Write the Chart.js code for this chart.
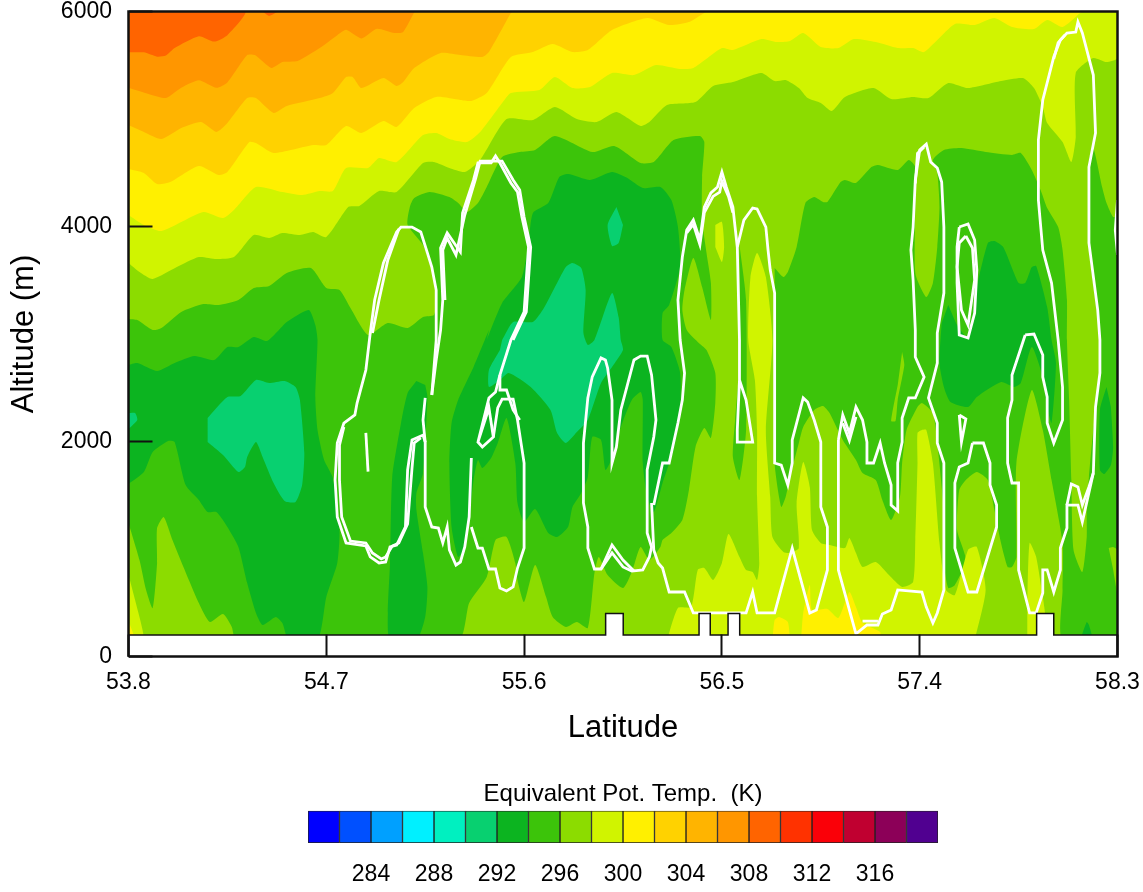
<!DOCTYPE html>
<html>
<head>
<meta charset="utf-8">
<title>Equivalent potential temperature cross section</title>
<script src="https://cdn.jsdelivr.net/npm/chart.js@4"></script>
<style>
  html, body { margin: 0; padding: 0; background: #fff; }
  #page { position: relative; width: 1143px; height: 892px; overflow: hidden; }
  #main { position: absolute; left: 0; top: 0; }
  #bar { position: absolute; left: 0; top: 770px; }
</style>
</head>
<body>
<div id="page">
  <canvas id="main" width="1143" height="770"></canvas>
  <canvas id="bar" width="1143" height="122"></canvas>
</div>
<script>
// Axis ticks
const latTicks = [53.8, 54.7, 55.6, 56.5, 57.4, 58.3];
const altTicks = [0, 2000, 4000, 6000];

// Colorbar
const barLevels = [280, 282, 284, 286, 288, 290, 292, 294, 296, 298, 300, 302, 304, 306, 308, 310, 312, 314, 316, 318];
const barTicks = [284, 288, 292, 296, 300, 304, 308, 312, 316];
const barColors = ["#0000ff", "#0050ff", "#00a0ff", "#00f0ff", "#00f0c0", "#08d070", "#0cb420", "#3cc40a", "#8cdc00", "#d0f400",
  "#fff000", "#ffd200", "#ffb400", "#ff9600", "#ff6400", "#ff3200", "#fa0008", "#c00030", "#8c0058", "#500090"];

// Filled contour regions, [latitude, altitude]
const ground296 = [[53.8,0],[58.3,0],[58.3,6000],[53.8,6000]];

const green294West = [[53.80,3140],[53.84,3130],[53.91,3037],[53.95,3056],[54.04,3205],[54.14,3279],[54.21,3270],[54.30,3316],[54.37,3428],[54.44,3447],[54.52,3568],[54.63,3614],[54.70,3428],[54.76,3409],[54.81,3242],[54.89,2991],[54.98,3102],[55.07,3056],[55.14,3158],[55.19,3177],[55.20,3316],[55.18,3595],[55.14,3828],[55.07,4014],[55.08,4181],[55.10,4265],[55.17,4321],[55.26,4274],[55.30,4219],[55.34,4135],[55.39,4219],[55.43,4368],[55.50,4647],[55.58,4693],[55.65,4712],[55.74,4842],[55.91,4693],[56.01,4749],[56.13,4591],[56.19,4600],[56.28,4805],[56.40,4842],[56.42,4786],[56.41,4460],[56.41,4060],[56.43,3754],[56.45,3474],[56.45,3130],[56.41,3437],[56.37,3707],[56.33,3409],[56.32,3223],[56.34,3037],[56.39,2926],[56.43,2851],[56.47,2637],[56.47,2358],[56.45,2033],[56.42,2126],[56.38,1949],[56.35,1549],[56.32,1270],[56.27,1149],[56.23,1084],[56.22,1019],[56.17,898],[56.13,1019],[56.09,786],[56.05,637],[55.98,758],[55.94,926],[55.92,777],[55.89,265],[55.84,321],[55.79,275],[55.73,368],[55.70,554],[55.65,851],[55.60,507],[55.57,712],[55.56,870],[55.52,1112],[55.47,1084],[55.43,740],[55.35,498],[55.30,150],[54.29,150],[54.27,275],[54.23,395],[54.17,321],[54.12,498],[54.05,833],[54.00,1084],[53.96,1298],[53.93,1195],[53.93,870],[53.91,451],[53.88,619],[53.85,898],[53.80,1242]];

const green294East = [[56.74,3614],[56.78,3530],[56.80,3577],[56.84,3809],[56.88,4219],[56.92,4274],[56.96,4228],[56.98,4228],[57.04,4414],[57.06,4433],[57.11,4405],[57.18,4553],[57.21,4572],[57.30,4526],[57.35,4619],[57.38,4553],[57.38,3568],[57.43,3344],[57.46,3474],[57.48,3809],[57.49,4181],[57.48,4498],[57.46,4619],[57.51,4712],[57.59,4730],[57.70,4693],[57.82,4665],[57.86,4684],[57.91,4526],[57.95,4340],[57.98,4172],[58.03,3995],[58.05,3781],[58.07,3316],[58.07,2944],[58.08,2386],[58.09,1642],[58.10,991],[58.14,786],[58.16,1112],[58.16,1363],[58.17,1670],[58.19,2107],[58.21,2414],[58.22,2730],[58.22,2972],[58.20,3316],[58.17,3781],[58.17,4246],[58.17,4619],[58.19,4730],[58.23,4368],[58.25,4219],[58.28,4088],[58.30,4088],[58.30,150],[58.05,150],[58.05,619],[58.05,1056],[58.00,1642],[57.96,2107],[57.91,2479],[57.84,1800],[57.84,926],[57.82,833],[57.80,833],[57.77,1056],[57.74,1363],[57.71,1642],[57.66,1716],[57.61,1642],[57.58,1549],[57.57,1177],[57.61,898],[57.56,665],[57.53,637],[57.51,870],[57.51,1335],[57.48,1986],[57.46,2265],[57.41,2358],[57.39,2321],[57.34,2107],[57.32,1800],[57.31,1484],[57.27,1270],[57.23,1456],[57.20,1642],[57.14,1707],[57.11,1828],[57.05,2014],[56.99,2265],[56.96,2330],[56.92,2293],[56.87,2135],[56.85,1986],[56.81,1670],[56.79,1484],[56.77,1391],[56.74,1800],[56.74,3037]];

const green294Sliver = [[56.58,3828],[56.61,3316],[56.61,2107],[56.58,1642],[56.55,1856],[56.56,2200],[56.58,2665]];

const lime296Sliver = [[57.32,2833],[57.33,2712],[57.30,2386],[57.29,2191],[57.27,2191],[57.30,2526]];
const lime296Edge = [[58.26,1009],[58.28,1019],[58.30,990],[58.30,590],[58.28,810]];

const dark292Left = [[53.80,2712],[53.84,2730],[53.93,2656],[54.01,2730],[54.10,2795],[54.19,2758],[54.25,2879],[54.30,2879],[54.37,2972],[54.43,2935],[54.48,3028],[54.52,3112],[54.62,3223],[54.65,3084],[54.66,2944],[54.65,2414],[54.66,2107],[54.69,1828],[54.73,1660],[54.76,1177],[54.75,870],[54.70,553],[54.66,150],[54.53,150],[54.50,312],[54.47,368],[54.41,293],[54.38,405],[54.34,684],[54.30,1019],[54.25,1205],[54.20,1344],[54.16,1344],[54.12,1456],[54.06,1595],[54.01,1995],[53.98,2005],[53.91,1902],[53.87,1716],[53.80,1605]];
const dark292Narrow = [[55.11,2563],[55.07,2451],[55.04,2172],[55.00,1670],[54.99,870],[54.98,405],[54.99,150],[55.11,150],[55.15,368],[55.16,647],[55.14,963],[55.11,1363],[55.11,1521],[55.14,1707],[55.16,2414],[55.15,2526]];
const dark292Centre = [[55.43,2944],[55.50,3288],[55.59,3530],[55.62,3847],[55.64,4126],[55.71,4219],[55.76,4460],[55.80,4488],[55.90,4433],[56.00,4507],[56.07,4451],[56.14,4358],[56.22,4368],[56.27,4246],[56.30,3995],[56.31,3623],[56.26,3270],[56.23,3195],[56.23,2944],[56.27,2879],[56.31,2637],[56.31,2265],[56.28,1921],[56.23,1614],[56.19,1344],[56.16,1484],[56.14,1800],[56.14,2386],[56.13,2460],[56.09,2386],[56.04,2135],[55.99,1800],[55.97,1735],[55.95,2014],[55.91,2042],[55.89,1670],[55.86,1521],[55.82,1391],[55.80,1205],[55.75,1112],[55.71,1149],[55.65,1372],[55.60,1251],[55.57,1428],[55.56,1800],[55.52,2219],[55.48,1986],[55.45,1847],[55.41,1754],[55.39,1828],[55.37,1642],[55.35,1270],[55.33,1019],[55.30,926],[55.27,1205],[55.26,1800],[55.27,2172],[55.30,2386],[55.37,2693],[55.44,3037]];
const dark292East = [[57.53,3270],[57.57,3084],[57.62,2963],[57.66,3437],[57.71,3847],[57.74,3865],[57.78,3809],[57.85,3474],[57.88,3474],[57.91,3623],[57.93,3633],[57.98,3251],[58.00,2944],[58.02,2730],[58.00,2172],[57.98,2321],[57.96,2600],[57.91,2879],[57.86,2544],[57.83,2507],[57.77,2553],[57.66,2414],[57.62,2321],[57.54,2367],[57.51,2507],[57.49,2730],[57.50,3102]];
const dark292Edge = [[58.25,2507],[58.22,2293],[58.22,1735],[58.24,1698],[58.27,1781],[58.28,1949],[58.27,2321]];
const dark292Foot = [[58.13,150],[58.16,321],[58.17,293],[58.19,150]];

const teal290West = [[54.16,2219],[54.25,2414],[54.31,2423],[54.38,2572],[54.44,2544],[54.51,2563],[54.56,2507],[54.58,2386],[54.60,1893],[54.59,1595],[54.56,1437],[54.51,1447],[54.46,1614],[54.41,1856],[54.38,1995],[54.34,1856],[54.33,1763],[54.30,1716],[54.23,1874],[54.16,1995]];
const teal290Edge = [[53.80,2265],[53.83,2265],[53.84,2200],[53.80,2116]];
const teal290Centre = [[55.50,2944],[55.55,3112],[55.64,3112],[55.69,3242],[55.75,3474],[55.79,3623],[55.82,3660],[55.86,3614],[55.88,3409],[55.87,3009],[55.89,2898],[55.92,2944],[56.00,3381],[56.03,3158],[56.04,2944],[56.05,2851],[56.00,2693],[55.95,2544],[55.89,2200],[55.84,2088],[55.79,1986],[55.75,2079],[55.72,2293],[55.63,2507],[55.53,2637],[55.49,2572],[55.44,2507],[55.44,2665],[55.49,2851]];
const teal290Small = [[56.02,4181],[55.98,4014],[56.00,3819],[56.03,3847],[56.05,4014]];

const lime298Top = [[53.80,3660],[53.85,3577],[53.91,3512],[54.02,3623],[54.12,3716],[54.20,3698],[54.28,3716],[54.37,3921],[54.44,3893],[54.50,3940],[54.58,3921],[54.64,3949],[54.70,3902],[54.80,4181],[54.85,4191],[54.94,4330],[55.02,4321],[55.14,4591],[55.19,4600],[55.26,4544],[55.33,4507],[55.40,4619],[55.52,5000],[55.64,4991],[55.74,5112],[55.84,5000],[55.93,4972],[56.02,5065],[56.13,4935],[56.17,4972],[56.25,5130],[56.38,5158],[56.46,5307],[56.55,5344],[56.68,5428],[56.74,5353],[56.79,5363],[56.85,5288],[56.89,5195],[56.95,5149],[57.00,5074],[57.06,5205],[57.19,5288],[57.27,5186],[57.37,5205],[57.44,5195],[57.53,5335],[57.62,5288],[57.77,5353],[57.87,5381],[57.92,5288],[57.96,5112],[57.98,4963],[58.05,4786],[58.09,4600],[58.11,4833],[58.11,5428],[58.19,5567],[58.25,5530],[58.30,5567],[58.30,6000],[53.80,6000]];
const lime298Low = [[56.25,150],[56.30,451],[56.36,461],[56.39,805],[56.42,823],[56.46,712],[56.50,870],[56.53,1140],[56.58,926],[56.61,805],[56.64,786],[56.66,712],[56.67,870],[56.66,1484],[56.66,2107],[56.65,2572],[56.62,2944],[56.63,3530],[56.66,3754],[56.70,3530],[56.73,2944],[56.70,2107],[56.72,1484],[56.73,1112],[56.78,972],[56.81,963],[56.85,1009],[56.84,1428],[56.87,1809],[56.90,1577],[56.91,1177],[56.95,1056],[56.99,1037],[57.06,1009],[57.08,1102],[57.11,963],[57.14,833],[57.20,879],[57.26,758],[57.32,647],[57.37,693],[57.38,1084],[57.39,1800],[57.39,2079],[57.41,2107],[57.43,2107],[57.46,1800],[57.49,1056],[57.52,619],[57.56,572],[57.62,991],[57.66,1019],[57.70,619],[57.65,150]];
const lime298Spot = [[56.47,4014],[56.50,4042],[56.51,3809],[56.50,3670],[56.47,3809]];
const lime298Right = [[57.89,150],[57.89,526],[57.90,1056],[57.93,926],[57.96,553],[57.97,405],[57.97,150]];
const lime298Left = [[53.80,758],[53.83,526],[53.87,150],[53.80,150]];

const yellow300Top = [[53.80,4107],[53.87,4014],[53.95,3958],[54.14,4135],[54.23,4079],[54.28,4154],[54.38,4368],[54.50,4321],[54.59,4293],[54.67,4330],[54.73,4330],[54.79,4544],[54.89,4544],[54.94,4637],[55.02,4600],[55.14,4851],[55.20,4870],[55.26,4814],[55.34,4786],[55.40,4879],[55.50,5149],[55.54,5242],[55.67,5270],[55.74,5391],[55.82,5288],[55.90,5298],[56.00,5428],[56.10,5409],[56.20,5502],[56.31,5465],[56.37,5474],[56.50,5660],[56.55,5642],[56.68,5744],[56.75,5716],[56.81,5726],[56.87,5800],[56.95,5670],[57.03,5660],[57.10,5744],[57.20,5716],[57.30,5660],[57.37,5660],[57.42,5623],[57.56,5884],[57.65,5874],[57.74,5940],[57.82,5856],[57.92,5837],[57.98,5921],[58.05,5856],[58.13,5986],[58.14,6000],[53.80,6000]];
const yellow300Low = [[56.86,150],[56.87,405],[56.90,665],[56.91,433],[56.98,442],[57.03,358],[57.08,600],[57.11,460],[57.14,312],[57.22,228],[57.22,150]];
const yellow300Mid = [[56.73,150],[56.74,340],[56.76,368],[56.80,321],[56.81,150]];
const yellow300Left = [[53.80,330],[53.83,150],[53.80,150]];

const gold302Top = [[53.80,4535],[53.87,4498],[53.93,4395],[53.99,4414],[54.12,4563],[54.21,4479],[54.25,4507],[54.35,4786],[54.38,4777],[54.46,4684],[54.64,4758],[54.70,4758],[54.79,4935],[54.86,4870],[54.96,4981],[55.02,4926],[55.10,5102],[55.20,5205],[55.31,5177],[55.36,5168],[55.43,5242],[55.54,5577],[55.64,5623],[55.73,5698],[55.82,5623],[55.89,5642],[56.00,5828],[56.16,5940],[56.26,5874],[56.35,5902],[56.42,5986],[56.43,6000],[53.80,6000]];
const amber304Top = [[53.80,4944],[53.87,4880],[53.95,4814],[54.04,4916],[54.13,4972],[54.20,4880],[54.25,4963],[54.34,5195],[54.38,5195],[54.46,5056],[54.52,5121],[54.67,5195],[54.73,5242],[54.79,5391],[54.82,5391],[54.86,5288],[54.96,5381],[55.02,5307],[55.05,5344],[55.10,5474],[55.22,5614],[55.31,5595],[55.41,5577],[55.44,5623],[55.54,5986],[55.55,6000],[53.80,6000]];
const orange306Top = [[53.80,5290],[53.88,5240],[53.97,5195],[54.04,5290],[54.12,5360],[54.20,5290],[54.25,5340],[54.34,5595],[54.375,5595],[54.45,5475],[54.50,5530],[54.57,5540],[54.67,5660],[54.75,5780],[54.79,5830],[54.86,5750],[54.93,5840],[55.01,5800],[55.05,5810],[55.10,5990],[55.11,6000],[53.80,6000]];
const red308Top = [[53.80,5620],[53.87,5620],[53.93,5580],[53.97,5590],[54.01,5660],[54.12,5770],[54.19,5720],[54.25,5780],[54.33,6000],[53.80,6000]];
const red308Spot = [[54.41,6000],[54.44,5960],[54.48,6000]];

// White cloud outlines, [latitude, altitude]
const cloudA = [[55.18,2433],[55.20,2944],[55.20,3409],[55.18,3623],[55.16,3754],[55.13,3949],[55.09,3995],[55.04,3995],[55.02,3949],[54.96,3660],[54.92,3316],[54.90,3009],[54.88,2665],[54.84,2358],[54.83,2247],[54.78,2172],[54.75,1986],[54.74,1642],[54.75,1298],[54.79,1056],[54.88,1028],[54.90,926],[54.94,870],[54.97,879],[54.99,1019],[55.02,1037],[55.06,1205],[55.07,1735],[55.09,2014],[55.14,2060],[55.15,1995],[55.15,1391],[55.18,1205],[55.21,1195],[55.23,1056],[55.25,1205],[55.26,991],[55.29,851],[55.31,879],[55.33,1019],[55.35,1298],[55.36,1847]];
const cloudA2 = [[54.78,2135],[54.76,1967],[54.76,1642],[54.77,1298],[54.81,1074],[54.88,1056],[54.91,963],[54.95,907],[54.97,926],[55.00,1028],[55.03,1056],[55.07,1233],[55.09,1753],[55.10,1986],[55.13,2033]];
const cloudA3 = [[55.03,3977],[54.98,3689],[54.94,3316],[54.91,3009]];
const cloudSpike = [[55.15,2405],[55.14,2200],[55.15,1995]];
const cloudDash = [[54.88,2080],[54.89,1720]];
const cloudB = [[55.18,2433],[55.20,2758],[55.22,3037],[55.23,3316],[55.22,3800],[55.25,3940],[55.31,3763],[55.32,4126],[55.37,4433],[55.39,4591],[55.45,4591],[55.47,4656],[55.49,4591],[55.54,4405],[55.57,4321],[55.59,4088],[55.62,3809],[55.60,3205],[55.54,2944],[55.49,2619],[55.47,2460],[55.44,2405],[55.39,1995],[55.41,1949],[55.46,2042],[55.44,2312],[55.39,1995]];
const cloudB2 = [[55.24,3316],[55.23,3781],[55.25,3893],[55.29,3735],[55.33,4107],[55.38,4451],[55.40,4609],[55.50,4609],[55.55,4433],[55.58,4340],[55.60,4088],[55.63,3809],[55.61,3205],[55.55,2944]];
const cloudC = [[55.36,1205],[55.39,1009],[55.41,1009],[55.44,814],[55.47,814],[55.49,637],[55.52,609],[55.55,647],[55.57,823],[55.60,1009],[55.60,1800],[55.57,2200],[55.55,2395],[55.50,2395],[55.48,2312],[55.46,2042]];
const cloudC2 = [[55.49,2619],[55.49,2479],[55.52,2479],[55.55,2293],[55.58,2200]];
const cloudD = [[55.89,2405],[55.87,1986],[55.87,1428],[55.89,1205],[55.89,1009],[55.92,814],[55.95,814],[56.00,963],[56.05,833],[56.09,795],[56.14,805],[56.17,926],[56.18,1019],[56.16,1149],[56.16,1735],[56.19,2042],[56.20,2200],[56.18,2619],[56.16,2795],[56.13,2795],[56.10,2758],[56.04,2293],[56.02,1949],[56.00,1800],[56.00,2386],[55.98,2684],[55.97,2758],[55.95,2777],[55.91,2600],[55.89,2405]];
const cloudD2 = [[55.95,814],[56.00,1037],[56.05,898],[56.10,795]];
const cloudE = [[56.19,1409],[56.23,1800],[56.26,1800],[56.30,2172],[56.32,2386],[56.33,2637],[56.31,2944],[56.30,3316],[56.32,3716],[56.34,3967],[56.37,4060],[56.40,3874],[56.42,4181],[56.45,4312],[56.48,4368],[56.50,4507],[56.52,4368],[56.55,4181],[56.56,3995],[56.57,3809],[56.58,2944],[56.58,2572],[56.61,2386],[56.64,1995],[56.57,1995],[56.57,2107],[56.58,2572]];
const cloudE2 = [[56.34,3940],[56.37,4020],[56.40,3830],[56.42,4130],[56.46,4280],[56.49,4320],[56.50,4420],[56.53,4280],[56.55,4130]];
const cloudF = [[56.57,3809],[56.60,4060],[56.64,4172],[56.66,4163],[56.70,3995],[56.71,3781],[56.72,3595],[56.74,3381],[56.74,2944],[56.74,1800],[56.77,1781],[56.80,1595],[56.82,1800],[56.82,2014],[56.87,2405],[56.89,2367],[56.92,2200],[56.95,1995],[56.95,1391],[56.98,1205],[56.98,805],[56.93,433],[56.90,405],[56.82,1009],[56.74,405],[56.66,405],[56.64,600],[56.61,405],[56.37,405],[56.33,600],[56.26,600],[56.23,823],[56.21,870],[56.19,991],[56.18,1428]];
const cloudG = [[57.03,2014],[57.05,2247],[57.08,2079],[57.11,2321],[57.14,2200],[57.16,1995],[57.16,1800],[57.19,1800],[57.22,1986],[57.24,1800],[57.27,1595],[57.27,1409],[57.30,1354],[57.30,1800],[57.32,1995],[57.32,2219],[57.35,2405],[57.38,2405],[57.42,2600],[57.38,2786],[57.38,3037],[57.37,3502],[57.36,3781],[57.37,3995],[57.38,4433],[57.40,4712],[57.43,4767],[57.45,4600],[57.48,4544],[57.50,4414],[57.51,3995],[57.51,3381],[57.48,3009],[57.48,2730],[57.44,2405],[57.48,2172],[57.48,1986],[57.51,1800],[57.51,619],[57.48,405],[57.46,312],[57.43,460],[57.41,600],[57.30,619],[57.27,433],[57.23,395],[57.21,293],[57.16,293],[57.11,210],[57.03,805],[57.03,2014]];
const cloudG2 = [[57.05,2170],[57.08,2010],[57.11,2230]];
const cloudG3 = [[57.38,4400],[57.39,4680],[57.42,4740]];
const cloudG4 = [[57.14,330],[57.16,330],[57.21,330]];
const cloudH = [[57.58,2247],[57.61,2210],[57.59,1995],[57.58,2247]];
const cloudI = [[57.58,3995],[57.62,4023],[57.65,3874],[57.66,3595],[57.65,3195],[57.62,2963],[57.58,2991],[57.57,3474],[57.57,3809],[57.58,3995]];
const cloudI2 = [[57.61,3912],[57.64,3800],[57.65,3502],[57.62,3084],[57.59,3223],[57.57,3623],[57.58,3847],[57.61,3912]];
const cloudJ = [[57.88,2991],[57.92,3000],[57.96,2805],[57.96,2600],[57.98,2414],[57.98,2172],[58.01,1986],[58.05,2200],[58.05,2507],[58.03,2944],[58.00,3474],[57.96,3781],[57.94,4246],[57.94,4805],[57.96,5177],[58.01,5577],[58.04,5735],[58.07,5800],[58.11,5809],[58.12,5902],[58.14,5800],[58.19,5409],[58.20,4870],[58.17,4553],[58.17,3847],[58.21,3223],[58.22,2944],[58.22,2637],[58.20,2321],[58.19,1707],[58.14,1251],[58.12,1409],[58.07,1409],[58.07,1195],[58.04,1009],[58.04,805],[58.01,600],[57.98,805],[57.96,805],[57.96,591],[57.93,405],[57.90,405],[57.85,805],[57.85,1614],[57.82,1614],[57.80,1800],[57.80,2219],[57.82,2386],[57.82,2619],[57.88,2991]];
const cloudJ2 = [[58.07,1409],[58.09,1605],[58.12,1577],[58.14,1409],[58.17,1577],[58.19,1707]];
const cloudJ3 = [[58.01,5560],[58.03,5710],[58.06,5780]];
const cloudK = [[57.64,1986],[57.69,1986],[57.72,1800],[57.72,1595],[57.75,1409],[57.75,1205],[57.66,600],[57.62,600],[57.56,1009],[57.56,1614],[57.58,1763],[57.62,1800],[57.64,1986]];
const cloudL = [[58.30,4246],[58.29,3967],[58.30,3735]];

// Ground mask, 200 m level with the higher terrain steps
const terrain = [[53.8,0],[53.8,200],[55.971,200],[55.971,400],[56.051,400],[56.051,200],[56.396,200],[56.396,400],[56.447,400],[56.447,200],[56.528,200],[56.528,400],[56.581,400],[56.581,200],[57.932,200],[57.932,400],[58.01,400],[58.01,200],[58.3,200],[58.3,0]];
const frame = [[53.8,0],[53.8,6000],[58.3,6000],[58.3,0],[53.8,0]];

const C = { c292: "#0cb420", c290: "#08d070", c294: "#3cc40a", c296: "#8cdc00", c298: "#d0f400", c300: "#fff000", c302: "#ffd200", c304: "#ffb400", c306: "#ff9600", c308: "#ff6400" };

const toXY = (a) => a.map(([x, y]) => ({ x, y }));

function band(points, color) {
  return { data: toXY(points), showLine: true, fill: "shape", backgroundColor: color, borderWidth: 0, pointRadius: 0, tension: 0.2 };
}
function outline(points) {
  return { data: toXY(points), showLine: true, fill: false, borderColor: "#fff", borderWidth: 2.8, pointRadius: 0, tension: 0 };
}

// painted in this order, bottom first
const layers = [
  band(ground296, C.c296),
  band(green294West, C.c294),
  band(green294East, C.c294),
  band(green294Sliver, C.c294),
  band(lime296Sliver, C.c296),
  band(lime296Edge, C.c296),
  band(dark292Left, C.c292),
  band(dark292Narrow, C.c292),
  band(dark292Centre, C.c292),
  band(dark292East, C.c292),
  band(dark292Edge, C.c292),
  band(dark292Foot, C.c292),
  band(teal290West, C.c290),
  band(teal290Edge, C.c290),
  band(teal290Centre, C.c290),
  band(teal290Small, C.c290),
  band(lime298Top, C.c298),
  band(lime298Low, C.c298),
  band(lime298Spot, C.c298),
  band(lime298Right, C.c298),
  band(lime298Left, C.c298),
  band(yellow300Top, C.c300),
  band(yellow300Low, C.c300),
  band(yellow300Mid, C.c300),
  band(yellow300Left, C.c300),
  band(gold302Top, C.c302),
  band(amber304Top, C.c304),
  band(orange306Top, C.c306),
  band(red308Top, C.c308),
  band(red308Spot, C.c308),
];
[cloudA, cloudA2, cloudA3, cloudSpike, cloudDash, cloudB, cloudB2, cloudC, cloudC2, cloudD, cloudD2, cloudE, cloudE2, cloudF,
  cloudG, cloudG2, cloudG3, cloudG4, cloudH, cloudI, cloudI2, cloudJ, cloudJ2, cloudJ3, cloudK, cloudL].forEach((c) => layers.push(outline(c)));
layers.push({ data: toXY(terrain), showLine: true, fill: "shape", backgroundColor: "#fff", borderColor: "#111", borderWidth: 1.5, pointRadius: 0, tension: 0 });
layers.push({ data: toXY(frame), showLine: true, fill: false, borderColor: "#111", borderWidth: 2.5, pointRadius: 0, tension: 0, clip: false });

const fontName = "'Liberation Sans', Arial, sans-serif";

// stop the axes from reserving room for their end labels
function noScalePadding(s) {
  s.paddingTop = 0;
  s.paddingBottom = 0;
  s.paddingLeft = 0;
  s.paddingRight = 0;
}

// Chart.js paints the last dataset first
new Chart(document.getElementById("main"), {
  type: "scatter",
  data: { datasets: layers.slice().reverse() },
  options: {
    responsive: false,
    animation: false,
    events: [],
    layout: { padding: { left: 0, right: 25.5, top: 11.5, bottom: 21.5 } },
    plugins: { legend: { display: false }, tooltip: { enabled: false } },
    scales: {
      x: {
        type: "linear",
        min: 53.8,
        max: 58.3,
        afterBuildTicks: (s) => { s.ticks = latTicks.map((v) => ({ value: v })); },
        afterFit: (s) => { s.height = 92; noScalePadding(s); },
        ticks: { callback: (v) => v.toFixed(1), maxRotation: 0, autoSkip: false, padding: 34, color: "#000", font: { family: fontName, size: 23 } },
        grid: { drawOnChartArea: false, tickLength: -22, tickColor: "#111", tickWidth: 2, z: 1 },
        border: { display: false },
        title: { display: true, text: "Latitude", color: "#000", font: { family: fontName, size: 31 }, padding: { top: 0, bottom: 1 } },
      },
      y: {
        min: 0,
        max: 6000,
        afterBuildTicks: (s) => { s.ticks = altTicks.map((v) => ({ value: v })); },
        afterFit: (s) => { s.width = 128.5; noScalePadding(s); },
        ticks: { callback: (v) => String(v), autoSkip: false, padding: 40.5, color: "#000", font: { family: fontName, size: 23 } },
        grid: { drawOnChartArea: false, tickLength: -24, tickColor: "#111", tickWidth: 2, z: 1 },
        border: { display: false },
        title: { display: true, text: "Altitude (m)", color: "#000", font: { family: fontName, size: 31 }, padding: { top: 6, bottom: 0 } },
      },
    },
  },
});

// Colorbar: one floating segment per level
new Chart(document.getElementById("bar"), {
  type: "bar",
  data: {
    labels: [""],
    datasets: barLevels.map((lev, i) => ({
      label: String(lev),
      data: [[lev, lev + 2]],
      backgroundColor: barColors[i],
      borderColor: "#222",
      borderWidth: 1,
      borderSkipped: false,
      grouped: false,
      categoryPercentage: 1,
      barPercentage: 1,
    })),
  },
  options: {
    indexAxis: "y",
    responsive: false,
    animation: false,
    events: [],
    layout: { padding: { left: 308, right: 205, top: 0, bottom: 0 } },
    plugins: {
      legend: { display: false },
      tooltip: { enabled: false },
      title: {
        display: true,
        fullSize: false,
        text: "Equivalent Pot. Temp.  (K)",
        color: "#000",
        font: { family: fontName, size: 24, weight: "normal" },
        padding: { top: 10, bottom: 2 },
      },
    },
    scales: {
      x: {
        type: "linear",
        min: 280,
        max: 320,
        afterBuildTicks: (s) => { s.ticks = barTicks.map((v) => ({ value: v })); },
        afterFit: (s) => { s.height = 49; noScalePadding(s); },
        ticks: { autoSkip: false, maxRotation: 0, padding: 18, color: "#000", font: { family: fontName, size: 23 } },
        grid: { display: false, drawTicks: false },
        border: { display: false },
      },
      y: { display: false },
    },
  },
});
</script>
</body>
</html>
